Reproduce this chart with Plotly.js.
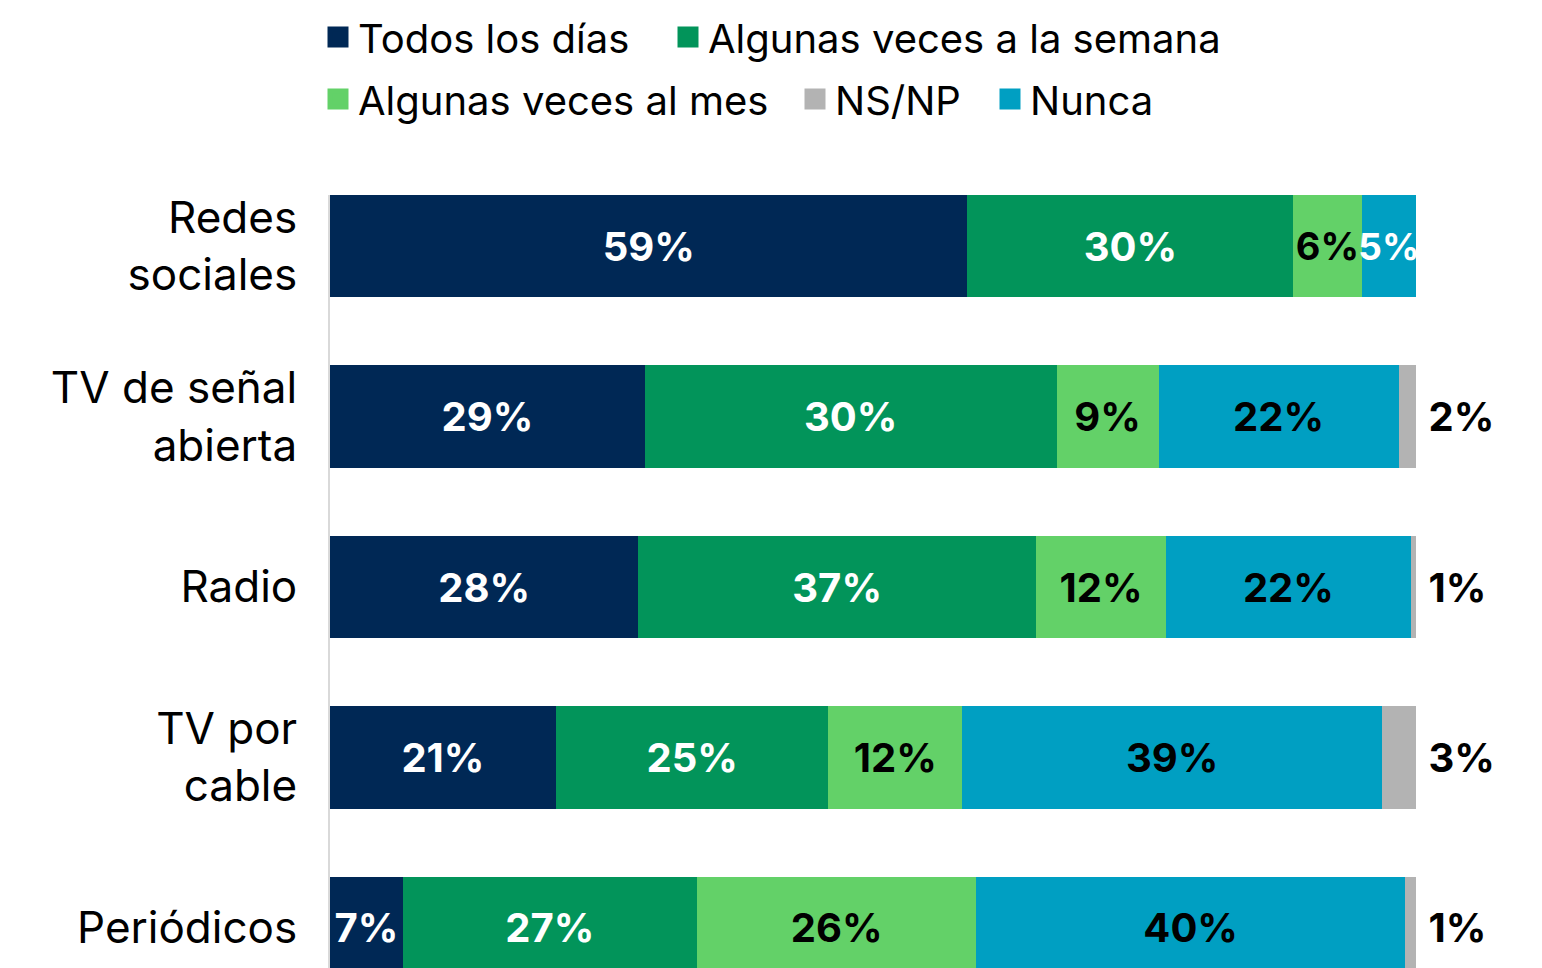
<!DOCTYPE html>
<html><head><meta charset="utf-8">
<script src="https://cdn.plot.ly/plotly-3.0.1.min.js"></script>
<style>html,body{margin:0;padding:0;background:#fff}#chart{width:1542px;height:968px}</style>
</head><body><div id="chart"></div>
<script>
// Categories (top to bottom)
const categories = ['Redes<br>sociales', 'TV de señal<br>abierta', 'Radio', 'TV por<br>cable', 'Periódicos'];

// Series names
const seriesNames = ['Todos los días', 'Algunas veces a la semana', 'Algunas veces al mes', 'Nunca', 'NS/NP'];

// Bar lengths (%)
const todosLosDias = [58.7, 29.0, 28.4, 20.8, 6.7];
const algunasSemana = [30.0, 37.9, 36.6, 25.1, 27.1];
const algunasMes = [6.3, 9.4, 12.0, 12.3, 25.7];
const nunca = [5.0, 22.1, 22.5, 38.7, 39.5];
const nsnp = [0, 1.6, 0.5, 3.1, 1.0];

// Printed labels
const labelsTodos = ['59%', '29%', '28%', '21%', '7%'];
const labelsSemana = ['30%', '30%', '37%', '25%', '27%'];
const labelsMes = ['6%', '9%', '12%', '12%', '26%'];
const labelsNunca = ['5%', '22%', '22%', '39%', '40%'];
const labelsNsnp = ['', '2%', '1%', '3%', '1%'];

const colors = {
  todos: '#002855',
  semana: '#02945A',
  mes: '#63D168',
  nunca: '#009FC2',
  nsnp: '#B3B3B3'
};

const FONT = 'Inter, Lato, sans-serif';

function barTrace(name, values, labels, color, textColors, sizes, pos) {
  const t = {
    type: 'bar',
    orientation: 'h',
    name: name,
    x: values,
    y: categories,
    text: labels,
    textposition: pos || 'inside',
    insidetextanchor: 'middle',
    textangle: 0,
    constraintext: 'none',
    cliponaxis: false,
    textfont: {family: FONT, size: sizes, weight: 700, color: textColors},
    outsidetextfont: {family: FONT, size: 40, weight: 700, color: '#000'},
    marker: {color: color, line: {width: 0}},
    showlegend: false,
    hoverinfo: 'x+y+name'
  };
  if (pos === 'outside') t.texttemplate = '\u00a0%{text}';
  return t;
}

function legendTrace(name, color, legendId, lw) {
  const t = {
    type: 'scatter',
    mode: 'markers',
    name: name,
    x: [null],
    y: [null],
    marker: {color: color, symbol: 'square', size: 16, line: {color: color, width: 5}},
    legend: legendId,
    showlegend: true,
    hoverinfo: 'skip'
  };
  if (lw) t.legendwidth = lw;
  return t;
}

const data = [
  barTrace(seriesNames[0], todosLosDias, labelsTodos, colors.todos, '#ffffff', 40),
  barTrace(seriesNames[1], algunasSemana, labelsSemana, colors.semana, '#ffffff', 40),
  barTrace(seriesNames[2], algunasMes, labelsMes, colors.mes, '#000000', [38, 40, 40, 40, 40]),
  barTrace(seriesNames[3], nunca, labelsNunca, colors.nunca, ['#ffffff', '#000000', '#000000', '#000000', '#000000'], [37, 40, 40, 40, 40]),
  barTrace(seriesNames[4], nsnp, labelsNsnp, colors.nsnp, '#000000', 40, 'outside'),
  legendTrace(seriesNames[0], colors.todos, 'legend', 305),
  legendTrace(seriesNames[1], colors.semana, 'legend'),
  legendTrace(seriesNames[2], colors.mes, 'legend2', 432),
  legendTrace(seriesNames[4], colors.nsnp, 'legend2', 150),
  legendTrace(seriesNames[3], colors.nunca, 'legend2')
];

const legendBase = {
  orientation: 'h',
  traceorder: 'normal',
  xref: 'container',
  yref: 'container',
  xanchor: 'left',
  yanchor: 'middle',
  bgcolor: 'rgba(0,0,0,0)',
  borderwidth: 0,
  font: {family: FONT, size: 40, color: '#000'},
  itemclick: false,
  itemdoubleclick: false
};

const layout = {
  width: 1542,
  height: 968,
  paper_bgcolor: '#fff',
  plot_bgcolor: '#fff',
  margin: {l: 330, r: 126, t: 195, b: 0, pad: 0},
  barmode: 'stack',
  bargap: 0.4,
  font: {family: FONT, color: '#000'},
  xaxis: {range: [0, 100], visible: false, fixedrange: true},
  yaxis: {
    type: 'category',
    range: [4.235, -0.3],
    showline: true,
    linecolor: '#d9d9d9',
    linewidth: 2,
    ticks: '',
    ticklabelstandoff: 22,
    tickfont: {family: FONT, size: 44, color: '#000'},
    showgrid: false,
    zeroline: false,
    fixedrange: true
  },
  legend: Object.assign({}, legendBase, {x: 318 / 1542, y: 1 - 37 / 968}),
  legend2: Object.assign({}, legendBase, {x: 318 / 1542, y: 1 - 99 / 968}),
  showlegend: true
};

Plotly.newPlot('chart', data, layout, {displayModeBar: false, responsive: false});
</script>
</body></html>
